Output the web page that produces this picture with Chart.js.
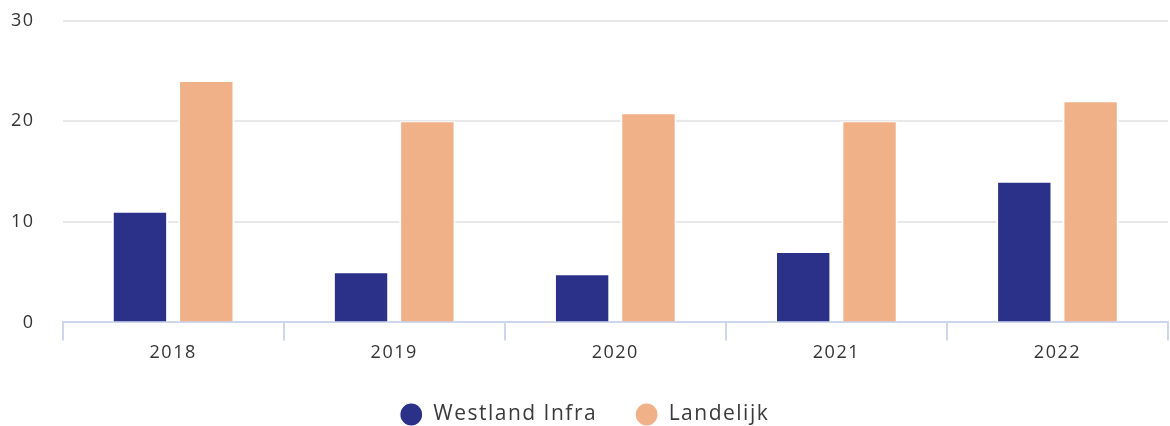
<!DOCTYPE html>
<html>
<head>
<meta charset="utf-8">
<script src="https://cdn.jsdelivr.net/npm/chart.js@4"></script>
<style>
  html, body { margin: 0; padding: 0; background: #fff; }
  #chartContainer { width: 1170px; height: 426px; position: relative; }
</style>
</head>
<body>
<div id="chartContainer"><canvas id="chart"></canvas></div>
<script>
// chart data
const years = ["2018", "2019", "2020", "2021", "2022"];
const westlandInfra = [11, 5, 4.8, 7, 14];
const landelijk = [24, 20, 20.8, 20, 22];
const yTicks = [0, 10, 20, 30];

// the original font runs wider than Open Sans, so space the letters a bit
const wideText = {
  id: "wideText",
  beforeUpdate(chart) {
    chart.ctx.letterSpacing = "1.5px";
  },
  beforeDraw(chart) {
    chart.ctx.letterSpacing = "1.5px";
  },
};

document.addEventListener("DOMContentLoaded", () => {
  const ctx = document.getElementById("chart").getContext("2d");
  Chart.defaults.font.family = "'Open Sans', 'Noto Sans', sans-serif";
  Chart.defaults.color = "#333333";

  const barBorder = { top: 1, left: 2, right: 2, bottom: 0 };

  new Chart(ctx, {
    type: "bar",
    plugins: [wideText],
    data: {
      labels: years,
      datasets: [
        {
          label: "Westland Infra",
          data: westlandInfra,
          backgroundColor: "#2b3188",
          borderColor: "#ffffff",
          borderWidth: barBorder,
        },
        {
          label: "Landelijk",
          data: landelijk,
          backgroundColor: "#f0b088",
          borderColor: "#ffffff",
          borderWidth: barBorder,
        },
      ],
    },
    options: {
      responsive: true,
      maintainAspectRatio: false,
      animation: false,
      layout: {
        padding: { top: 0, left: 1, right: 2, bottom: 0 },
      },
      datasets: {
        bar: { barPercentage: 0.85, categoryPercentage: 0.6 },
      },
      plugins: {
        tooltip: { enabled: false },
        legend: {
          display: true,
          position: "bottom",
          maxHeight: 60, // keep the wide item spacing without a tall legend box
          labels: {
            usePointStyle: true,
            pointStyle: "circle",
            boxHeight: 16.5,
            pointStyleWidth: 23,
            padding: 38,
            color: "#3a3a3a",
            font: { size: 21 },
          },
        },
      },
      scales: {
        x: {
          grid: {
            display: true,
            drawOnChartArea: false,
            drawTicks: true,
            tickLength: 18,
            color: "#cdd6ec",
            lineWidth: 2,
          },
          border: { display: true, color: "#cdd6ec", width: 2 },
          ticks: { font: { size: 18 }, color: "#333333", padding: 2 },
        },
        y: {
          min: 0,
          max: 30,
          afterBuildTicks: (axis) => {
            axis.ticks = yTicks.map((v) => ({ value: v }));
          },
          grid: {
            color: "#e8e8ea",
            lineWidth: 2,
            drawTicks: true,
            tickLength: 18,
            tickColor: "rgba(0,0,0,0)",
          },
          border: { display: false },
          ticks: { font: { size: 18 }, color: "#333333", padding: 10 },
        },
      },
    },
  });
});
</script>
</body>
</html>
